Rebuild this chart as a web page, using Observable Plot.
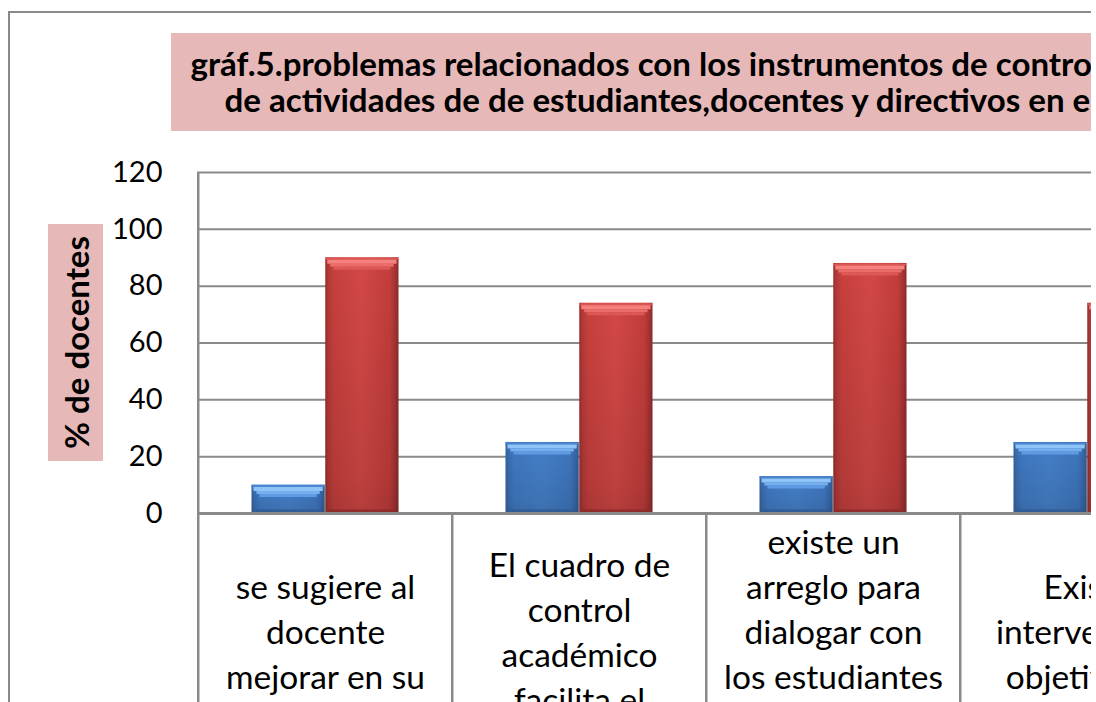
<!DOCTYPE html>
<html>
<head>
<meta charset="utf-8">
<script src="https://cdn.jsdelivr.net/npm/d3@7"></script>
<script src="https://cdn.jsdelivr.net/npm/@observablehq/plot@0.6"></script>
<style>
html, body { margin: 0; padding: 0; background: #fff; }
#wrap { position: relative; width: 1091px; height: 702px; overflow: hidden; background: #fff; font-family: Lato, "Open Sans", sans-serif; }
#border { position: absolute; left: 8px; top: 11px; width: 2000px; height: 2000px; border-top: 2px solid #8a8a8a; border-left: 2px solid #8a8a8a; }
#title { position: absolute; left: 171px; top: 33px; width: 1200px; height: 98px; background: #E6B8B7; }
#title div { position: absolute; white-space: nowrap; font-weight: bold; font-size: 33.1px; line-height: 34px; color: #000; }
#ylab { position: absolute; left: 48px; top: 224px; width: 55px; height: 237px; background: #E6B8B7; display: flex; align-items: center; justify-content: center; }
#ylab span { writing-mode: vertical-rl; transform: rotate(180deg); font-weight: bold; font-size: 33px; white-space: nowrap; color: #000; }
#chart { position: absolute; left: 0; top: 0; width: 1240px; }
#chart svg { max-width: none !important; }
</style>
</head>
<body>
<div id="wrap">
  <div id="border"></div>
  <div id="title"></div>
  <div id="ylab"><span></span></div>
  <div id="chart"></div>
</div>
<script>
// ---- data ----
const titleLines = [
  "gráf.5.problemas relacionados con los instrumentos de control",
  "de actividades de de estudiantes,docentes y directivos en el"
];
const yTitle = "% de docentes";
const categories = [
  "se sugiere al\ndocente\nmejorar en su",
  "El cuadro de\ncontrol\nacadémico\nfacilita el",
  "existe un\narreglo para\ndialogar con\nlos estudiantes\n",
  "Existe\nintervención\nobjetividad"
];
const seriesNames = ["Serie 1", "Serie 2"];
const series1 = [10, 25, 13, 25];
const series2 = [90, 74, 88, 74];
const yTicks = [0, 20, 40, 60, 80, 100, 120];

// ---- text in HTML ----
const t = document.getElementById("title");
titleLines.forEach((line, i) => {
  const d = document.createElement("div");
  d.textContent = line;
  d.style.top = (i === 0 ? 13 : 49) + "px";
  d.style.left = (i === 0 ? 19.5 : 53.5) + "px";
  t.appendChild(d);
});
document.querySelector("#ylab span").textContent = yTitle;

// ---- chart ----
const data = categories.flatMap((c, i) => [
  {category: c, series: seriesNames[0], value: series1[i]},
  {category: c, series: seriesNames[1], value: series2[i]}
]);
const s1 = data.filter(d => d.series === seriesNames[0]);
const s2 = data.filter(d => d.series === seriesNames[1]);

const W = 1240, H = 760, mL = 197, mR = 25, mT = 172, mB = 247;
const bw = (W - mL - mR) / categories.length;
const outer = 53.5, inner = bw / 2;
const plotH = H - mT - mB;
const lineColor = "#8a8a8a";

// bevelled bar: body gradient + vertical shade + top bevel bands + bottom edge
function barMarks(d, fillId, bevel, bottomColor, insetL, insetR) {
  const common = {x: "category", insetLeft: insetL, insetRight: insetR};
  return [
    Plot.barY(d, {...common, y: "value", fill: `url(#${fillId})`}),
    Plot.barY(d, {...common, y: "value", fill: "url(#vShade)"}),
    ...bevel.map(([color, width, dy, inset]) =>
      Plot.tickY(d, {x: "category", y: "value", stroke: color, strokeWidth: width, dy,
        insetLeft: insetL + inset, insetRight: insetR + inset})),
    Plot.tickY(d, {x: "category", y: () => 0, stroke: bottomColor, strokeWidth: 3, dy: -2.5,
      insetLeft: insetL + 3, insetRight: insetR + 3, strokeOpacity: 0.8})
  ];
}

const blueBevel = [
  ["#4c86d2", 2, 1, 0],
  ["#8ec4f7", 4, 4, 2],
  ["#77b0ee", 3, 7.5, 5],
  ["#5f9be2", 3, 10.5, 8]
];
const redBevel = [
  ["#dc5754", 2, 1, 0],
  ["#f5817e", 4, 4, 2],
  ["#ea6d6a", 3, 7.5, 5],
  ["#dc5855", 3, 10.5, 8]
];

const svg = Plot.plot({
  width: W,
  height: H,
  marginLeft: mL,
  marginRight: mR,
  marginTop: mT,
  marginBottom: mB,
  style: {background: "transparent", fontFamily: "Lato, 'Open Sans', sans-serif", overflow: "visible", maxWidth: "none"},
  x: {domain: categories, padding: 0, axis: null},
  y: {domain: [0, 120], axis: null},
  marks: [
    Plot.gridY(yTicks, {stroke: lineColor, strokeOpacity: 1, strokeWidth: 2}),
    Plot.ruleX([categories[0]], {dx: -bw / 2, stroke: lineColor, strokeWidth: 2.5}),
    Plot.ruleX(categories, {dx: -bw / 2, stroke: lineColor, strokeWidth: 2.5, insetTop: plotH, insetBottom: -mB}),
    ...barMarks(s1, "gBlue", blueBevel, "#2f5a92", outer, inner),
    ...barMarks(s2, "gRed", redBevel, "#8a2a29", inner, outer),
    Plot.ruleY([0], {stroke: lineColor, strokeWidth: 3}),
    Plot.axisY({ticks: yTicks, tickSize: 0, tickPadding: 35, fontSize: 29, label: null, fill: "#000"}),
    Plot.text(categories, {x: d => d, text: d => d, frameAnchor: "bottom", lineAnchor: "middle", dy: 116.5, fontSize: 33.5, lineHeight: 45 / 33.5, fill: "#000"})
  ]
});
svg.style.maxWidth = "none";
svg.setAttribute("width", W);
svg.setAttribute("height", H);

// gradients for the bevelled bars
const defs = d3.select(svg).insert("defs", ":first-child");
function hGrad(id, stops) {
  const g = defs.append("linearGradient").attr("id", id).attr("x1", 0).attr("x2", 1).attr("y1", 0).attr("y2", 0);
  stops.forEach(([o, c]) => g.append("stop").attr("offset", o).attr("stop-color", c));
}
hGrad("gBlue", [[0, "#35619b"], [0.05, "#3b6fb3"], [0.12, "#4079c2"], [0.5, "#4580c9"], [0.88, "#3e76be"], [0.95, "#3768aa"], [1, "#2f5990"]]);
hGrad("gRed", [[0, "#98302f"], [0.05, "#b63a38"], [0.12, "#c7403d"], [0.5, "#d34846"], [0.88, "#c23d3b"], [0.95, "#a83433"], [1, "#882b2a"]]);
const v = defs.append("linearGradient").attr("id", "vShade").attr("x1", 0).attr("x2", 0).attr("y1", 0).attr("y2", 1);
v.append("stop").attr("offset", 0).attr("stop-color", "#000").attr("stop-opacity", 0);
v.append("stop").attr("offset", 0.85).attr("stop-color", "#000").attr("stop-opacity", 0.1);
v.append("stop").attr("offset", 1).attr("stop-color", "#000").attr("stop-opacity", 0.15);

document.getElementById("chart").appendChild(svg);
</script>
</body>
</html>
